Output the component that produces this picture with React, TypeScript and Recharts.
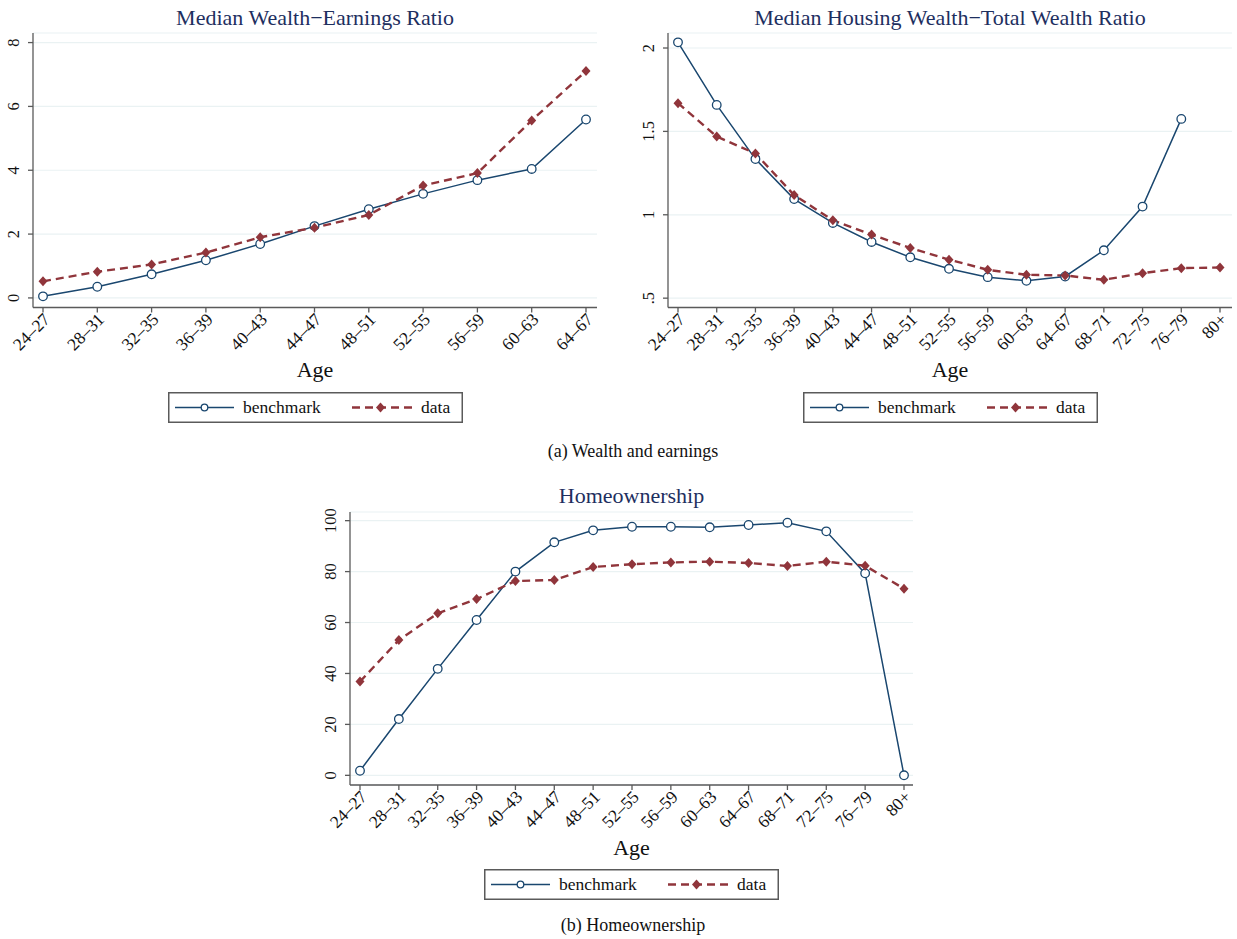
import { LineChart, Line, XAxis, YAxis, CartesianGrid } from "recharts";

// age brackets
const ageGroupsToRetirement = ["24–27", "28–31", "32–35", "36–39", "40–43", "44–47", "48–51", "52–55", "56–59", "60–63", "64–67"];
const ageGroupsAll = [...ageGroupsToRetirement, "68–71", "72–75", "76–79", "80+"];

// median wealth / earnings
const wealthEarningsBenchmark = [0.05, 0.35, 0.74, 1.18, 1.69, 2.25, 2.78, 3.26, 3.69, 4.04, 5.59];
const wealthEarningsData = [0.52, 0.82, 1.05, 1.42, 1.9, 2.2, 2.6, 3.52, 3.91, 5.56, 7.11];
const wealthEarningsTicks = [0, 2, 4, 6, 8];

// median housing wealth / total wealth
const housingShareBenchmark = [2.034, 1.659, 1.334, 1.094, 0.951, 0.837, 0.745, 0.676, 0.626, 0.604, 0.63, 0.787, 1.049, 1.575, null];
const housingShareData = [1.669, 1.469, 1.368, 1.118, 0.967, 0.881, 0.801, 0.731, 0.67, 0.64, 0.636, 0.61, 0.65, 0.68, 0.684];
const housingShareTicks = [0.5, 1, 1.5, 2];

// homeownership rate (%)
const homeownershipBenchmark = [1.8, 22.1, 41.8, 61.0, 80.0, 91.5, 96.2, 97.6, 97.6, 97.4, 98.3, 99.2, 95.8, 79.3, 0];
const homeownershipData = [36.8, 53.1, 63.6, 69.2, 76.3, 76.7, 81.8, 82.9, 83.6, 83.9, 83.4, 82.2, 83.9, 82.3, 73.3];
const homeownershipTicks = [0, 20, 40, 60, 80, 100];

const NAVY = "#1a476f";
const MAROON = "#90353b";
const GRID = "#eaf2f3";
const AXIS = "#5a5a5a";
const TITLE = "#1e2f5f";
const FONT = "'Liberation Serif', 'Times New Roman', serif";

const zip = (ages: string[], bench: (number | null)[], data: number[]) =>
  ages.map((age, i) => ({ age, benchmark: bench[i], data: data[i] }));

const XTick = ({ x, y, payload }: any) => (
  <text
    transform={`translate(${x + 8},${y + 6}) rotate(-45)`}
    textAnchor="end"
    fontFamily={FONT}
    fontSize={17.5}
    fill="#111"
  >
    {payload.value}
  </text>
);

const makeYTick = (fmt: (v: number) => string) => ({ x, y, payload }: any) => (
  <text
    transform={`translate(${x - 7},${y}) rotate(-90)`}
    textAnchor="middle"
    fontFamily={FONT}
    fontSize={16.5}
    fill="#111"
  >
    {fmt(payload.value)}
  </text>
);

const Diamond = ({ cx, cy }: any) =>
  cx == null || cy == null ? null : (
    <polygon points={`${cx},${cy - 5} ${cx + 4.5},${cy} ${cx},${cy + 5} ${cx - 4.5},${cy}`} fill={MAROON} />
  );

type PanelProps = {
  left: number;
  top: number;
  width: number;
  height: number;
  plot: { l: number; r: number; t: number; b: number };
  pad: { left: number; right: number };
  rows: any[];
  yTicks: number[];
  yDomain: [number, number];
  yFormat: (v: number) => string;
  title: string;
  titleBaseline: number;
  ageBaseline: number;
  legendTop: number;
};

function Legend({ cx, top }: { cx: number; top: number }) {
  const w = 295;
  const h = 31;
  return (
    <svg style={{ position: "absolute", left: cx - w / 2, top }} width={w} height={h}>
      <rect x={0.75} y={0.75} width={w - 1.5} height={h - 1.5} fill="#fff" stroke={AXIS} strokeWidth={1.5} />
      <line x1={7} x2={66} y1={15.5} y2={15.5} stroke={NAVY} strokeWidth={1.5} />
      <circle cx={36.5} cy={15.5} r={3.3} fill="#fff" stroke={NAVY} strokeWidth={1.3} />
      <text x={75} y={21} fontFamily={FONT} fontSize={17.5} fill="#111">benchmark</text>
      <line x1={184} x2={244} y1={15.5} y2={15.5} stroke={MAROON} strokeWidth={2.4} strokeDasharray="8 5" />
      <Diamond cx={212.5} cy={15.5} />
      <text x={253} y={21} fontFamily={FONT} fontSize={17.5} fill="#111">data</text>
    </svg>
  );
}

function Panel(p: PanelProps) {
  const xAxisHeight = 60;
  const margin = {
    top: p.plot.t - p.top,
    right: p.left + p.width - p.plot.r,
    left: 0,
    bottom: p.top + p.height - p.plot.b - xAxisHeight,
  };
  const cx = (p.plot.l + p.plot.r) / 2;
  const plotW = p.plot.r - p.plot.l;
  return (
    <>
      <div
        style={{
          position: "absolute",
          left: p.plot.l - 100,
          width: plotW + 200,
          top: p.titleBaseline - 20,
          textAlign: "center",
          fontFamily: FONT,
          fontSize: 22,
          lineHeight: "25px",
          color: TITLE,
          whiteSpace: "nowrap",
        }}
      >
        {p.title}
      </div>
      <div style={{ position: "absolute", left: p.left, top: p.top }}>
        <LineChart width={p.width} height={p.height} data={p.rows} margin={margin}>
          <CartesianGrid vertical={false} stroke={GRID} strokeWidth={1.2} />
          <XAxis
            dataKey="age"
            height={xAxisHeight}
            interval={0}
            padding={p.pad}
            stroke={AXIS}
            strokeWidth={1.3}
            tickSize={5}
            tick={<XTick />}
          />
          <YAxis
            width={p.plot.l - p.left}
            type="number"
            domain={p.yDomain}
            ticks={p.yTicks}
            allowDataOverflow
            stroke={AXIS}
            strokeWidth={1.3}
            tickSize={5}
            tick={makeYTick(p.yFormat)}
          />
          <Line
            dataKey="benchmark"
            stroke={NAVY}
            strokeWidth={1.5}
            dot={{ r: 4.3, fill: "#fff", stroke: NAVY, strokeWidth: 1.3 }}
            isAnimationActive={false}
          />
          <Line
            dataKey="data"
            stroke={MAROON}
            strokeWidth={2.4}
            strokeDasharray="8 5"
            dot={<Diamond />}
            isAnimationActive={false}
          />
        </LineChart>
      </div>
      <div
        style={{
          position: "absolute",
          left: cx - 60,
          width: 120,
          top: p.ageBaseline - 19,
          textAlign: "center",
          fontFamily: FONT,
          fontSize: 22,
          lineHeight: "24px",
          color: "#111",
        }}
      >
        Age
      </div>
      <Legend cx={cx} top={p.legendTop} />
    </>
  );
}

const Caption = ({ text, cx, top }: { text: string; cx: number; top: number }) => (
  <div
    style={{
      position: "absolute",
      left: cx - 200,
      width: 400,
      top,
      textAlign: "center",
      fontFamily: FONT,
      fontSize: 18,
      lineHeight: "20px",
      color: "#111",
    }}
  >
    {text}
  </div>
);

export default function App() {
  return (
    <div style={{ position: "absolute", left: 0, top: 0, width: 1237, height: 939, background: "#fff", overflow: "hidden" }}>
      <Panel
        left={0}
        top={0}
        width={620}
        height={440}
        plot={{ l: 33, r: 597, t: 33, b: 307.5 }}
        pad={{ left: 10, right: 11 }}
        rows={zip(ageGroupsToRetirement, wealthEarningsBenchmark, wealthEarningsData)}
        yTicks={wealthEarningsTicks}
        yDomain={[-0.3, 8.3]}
        yFormat={(v) => String(v)}
        title="Median Wealth−Earnings Ratio"
        titleBaseline={25}
        ageBaseline={377}
        legendTop={392}
      />
      <Panel
        left={620}
        top={0}
        width={617}
        height={440}
        plot={{ l: 668, r: 1232, t: 33, b: 307.5 }}
        pad={{ left: 10, right: 12 }}
        rows={zip(ageGroupsAll, housingShareBenchmark, housingShareData)}
        yTicks={housingShareTicks}
        yDomain={[0.444, 2.09]}
        yFormat={(v) => String(v).replace(/^0\./, ".")}
        title="Median Housing Wealth−Total Wealth Ratio"
        titleBaseline={25}
        ageBaseline={377}
        legendTop={392}
      />
      <Caption text="(a) Wealth and earnings" cx={633} top={441} />
      <Panel
        left={300}
        top={470}
        width={640}
        height={400}
        plot={{ l: 350, r: 913, t: 512, b: 785 }}
        pad={{ left: 10, right: 9 }}
        rows={zip(ageGroupsAll, homeownershipBenchmark, homeownershipData)}
        yTicks={homeownershipTicks}
        yDomain={[-3.8, 103.4]}
        yFormat={(v) => String(v)}
        title="Homeownership"
        titleBaseline={503}
        ageBaseline={855}
        legendTop={869}
      />
      <Caption text="(b) Homeownership" cx={633} top={915} />
    </div>
  );
}
